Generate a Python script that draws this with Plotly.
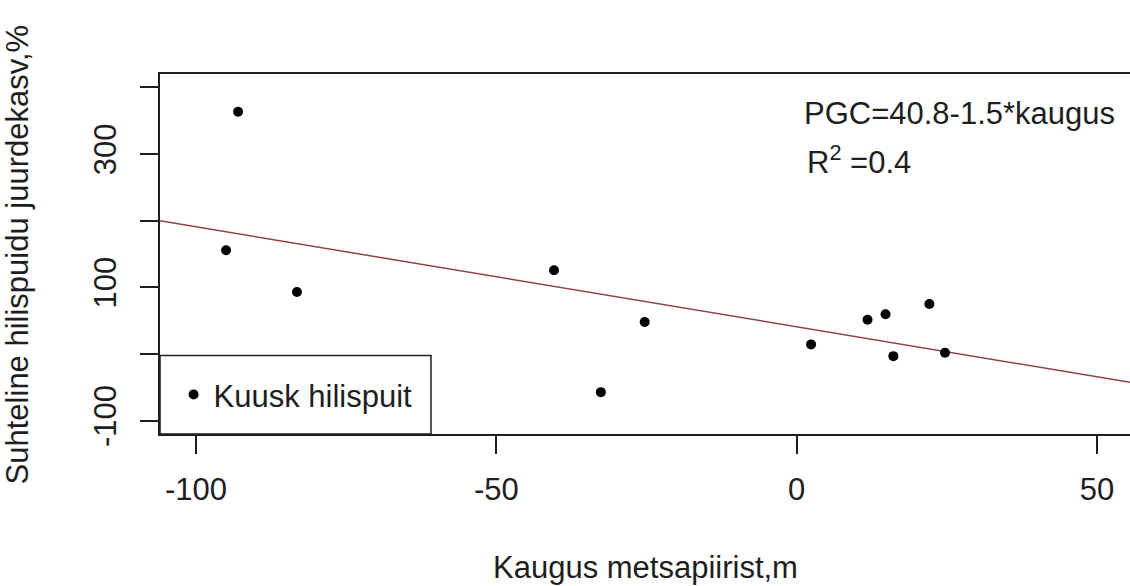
import plotly.graph_objects as go

# Distance from forest edge (m) and relative latewood growth (%)
kaugus = [-93.0, -95.0, -83.2, -40.4, -25.3, -32.6, 2.4, 11.8, 14.8, 16.1, 22.1, 24.7]
juurdekasv = [363.4, 155.6, 93.0, 125.6, 47.9, -57.2, 14.4, 51.5, 59.5, -3.2, 75.0, 2.0]

# Fitted regression
INTERCEPT = 40.8
SLOPE = -1.5
R2 = 0.4

X_RANGE = [-106, 55.5]
Y_RANGE = [-120, 420]
X_TICKS = [-100, -50, 0, 50]
X_TICK_TEXT = ["-100", "-50", "0", "50"]
Y_TICKS = [-100, 100, 300]
Y_TICK_TEXT = ["-100", "100", "300"]
Y_UNLABELLED_TICKS = [0, 200, 400]

FONT = "Liberation Sans, Arial, sans-serif"
INK = "#1e1e1e"
FS = 31

fig = go.Figure()

# Regression line across the whole x range
line_x = X_RANGE
line_y = [INTERCEPT + SLOPE * v for v in line_x]
fig.add_trace(go.Scatter(
    x=line_x, y=line_y, mode="lines",
    line=dict(color="#8c4646", width=1.5),
    showlegend=False, hoverinfo="skip",
))

fig.add_trace(go.Scatter(
    x=kaugus, y=juurdekasv, mode="markers",
    marker=dict(color="black", size=10),
    name="Kuusk hilispuit",
))

axis_common = dict(
    showgrid=False, zeroline=False, showline=True, linecolor=INK, linewidth=1.5,
    ticks="outside", ticklen=18, tickwidth=1.5, tickcolor=INK,
    tickfont=dict(family=FONT, size=FS, color=INK),
)

fig.update_xaxes(range=X_RANGE, tickvals=X_TICKS, ticktext=X_TICK_TEXT,
                 mirror=True, ticklabelstandoff=9, **axis_common)
fig.update_yaxes(range=Y_RANGE, tickvals=Y_TICKS, ticktext=Y_TICK_TEXT,
                 tickangle=-90, mirror=False, ticklabelstandoff=12,
                 minor=dict(tickvals=Y_UNLABELLED_TICKS, ticks="outside", ticklen=18,
                            tickwidth=1.5, tickcolor=INK, showgrid=False),
                 **axis_common)

# Legend frame
fig.add_shape(type="rect", xref="paper", yref="paper",
              x0=0, x1=0.2794, y0=0, y1=0.2184,
              line=dict(color=INK, width=1.5), fillcolor="white", layer="below")

fig.update_layout(
    width=1130, height=586,
    margin=dict(l=160, r=0, t=74, b=152),
    paper_bgcolor="white", plot_bgcolor="rgba(0,0,0,0)",
    font=dict(family=FONT, size=FS, color=INK),
    legend=dict(x=0.014, y=0.109, xanchor="left", yanchor="middle",
                bgcolor="rgba(0,0,0,0)", borderwidth=0,
                font=dict(family=FONT, size=FS, color=INK)),
    annotations=[
        dict(text=f"PGC={INTERCEPT}-{abs(SLOPE)}*kaugus", xref="paper", yref="paper",
             x=0.662, y=0.8915, xanchor="left", yanchor="middle", showarrow=False,
             font=dict(family=FONT, size=FS, color=INK)),
        dict(text=f"R<sup>2</sup> ={R2}", xref="paper", yref="paper",
             x=0.665, y=0.761, xanchor="left", yanchor="middle", showarrow=False,
             font=dict(family=FONT, size=FS, color=INK)),
        dict(text="Kaugus metsapiirist,m", xref="paper", yref="paper",
             x=0.5, y=-0.371, xanchor="center", yanchor="middle", showarrow=False,
             font=dict(family=FONT, size=FS, color=INK)),
        dict(text="Suhteline hilispuidu juurdekasv,%", xref="paper", yref="paper",
             x=-0.147, y=0.5, xanchor="center", yanchor="middle", textangle=-90,
             showarrow=False, font=dict(family=FONT, size=FS, color=INK)),
    ],
)

fig.write_html("out.html")
